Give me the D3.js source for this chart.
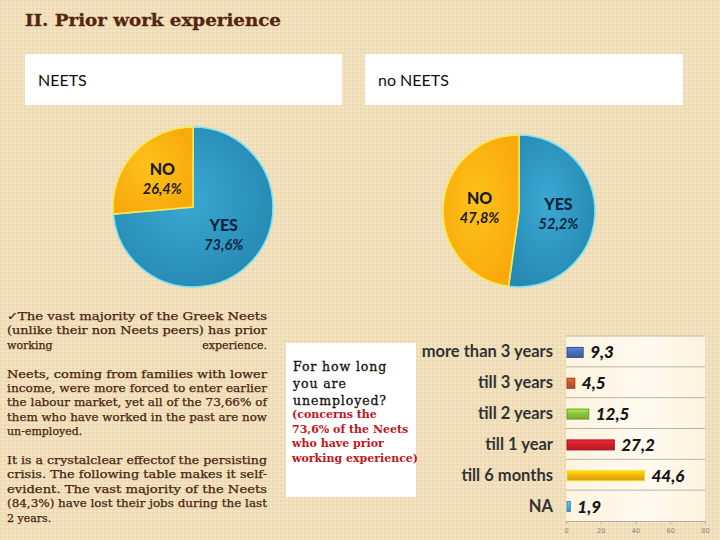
<!DOCTYPE html>
<html><head><meta charset="utf-8">
<script src="https://cdn.jsdelivr.net/npm/d3@7"></script>
<style>html,body{margin:0;padding:0;background:#f0dfba;}svg{display:block;}</style>
</head><body>
<svg id="c" width="720" height="540"></svg>
<script>
// ---- data ----
const titleText = "II. Prior work experience";
const pieTitles = ["NEETS", "no NEETS"];
const pieLabels = ["YES", "NO"];
const neetsValues = [73.6, 26.4];
const noNeetsValues = [52.2, 47.8];
const barCategories = ["more than 3 years", "till 3 years", "till 2 years", "till 1 year", "till 6 months", "NA"];
const barValues = [9.3, 4.5, 12.5, 27.2, 44.6, 1.9];
const barTicks = [0, 20, 40, 60, 80];
const questionLines = ["For how long", "you are", "unemployed?"];
const noteLines = ["(concerns the", "73,6% of the Neets", "who have prior", "working experience)"];
// [text, justified]; "split" = first word left, rest right
const paraLines = [
  ["\u2713The vast majority of the Greek Neets", true],
  ["(unlike their non Neets peers) has prior", true],
  ["working|experience.", "split"],
  null,
  ["Neets, coming from families with lower", true],
  ["income, were more forced to enter earlier", true],
  ["the labour market, yet all of the 73,66% of", true],
  ["them who have worked in the past are now", true],
  ["un-employed.", false],
  null,
  ["It is a crystalclear effectof the persisting", true],
  ["crisis. The following table makes it self-", true],
  ["evident. The vast majority of the Neets", true],
  ["(84,3%) have lost their jobs during the last", true],
  ["2 years.", false]
];

const svg = d3.select("#c");
const defs = svg.append("defs");

// background texture
const pat = defs.append("pattern").attr("id","tex").attr("width",4).attr("height",4).attr("patternUnits","userSpaceOnUse");
pat.append("rect").attr("width",4).attr("height",4).attr("fill","#f0dfba");
pat.append("rect").attr("width",2).attr("height",2).attr("fill","#ecd9b2");
pat.append("rect").attr("x",2).attr("y",2).attr("width",2).attr("height",2).attr("fill","#f3e4c2");
svg.append("rect").attr("width",720).attr("height",540).attr("fill","url(#tex)");

// title
svg.append("text").attr("x",25).attr("y",26).text(titleText)
  .attr("font-family","DejaVu Serif").attr("font-weight","bold").attr("font-size",17.5)
  .attr("fill","#55250f").attr("stroke","#55250f").attr("stroke-width",0.3)
  .attr("textLength",256).attr("lengthAdjust","spacingAndGlyphs");

// header boxes
const boxes = [{x:25,w:317},{x:365,w:318}];
boxes.forEach((b,i)=>{
  svg.append("rect").attr("x",b.x).attr("y",54).attr("width",b.w).attr("height",51).attr("fill","#fff");
  svg.append("text").attr("x",b.x+13).attr("y",86).text(pieTitles[i])
    .attr("font-family","Lato").attr("font-size",16).attr("fill","#111");
});

// gradients for pies
function radGrad(id, c0, c1){
  const g = defs.append("radialGradient").attr("id",id).attr("cx","45%").attr("cy","45%").attr("r","60%");
  g.append("stop").attr("offset","0%").attr("stop-color",c0);
  g.append("stop").attr("offset","100%").attr("stop-color",c1);
}
radGrad("gBlue","#3aa9d2","#2689b2");
radGrad("gYel","#fec21c","#f9a90a");

const pieFill = ["url(#gBlue)","url(#gYel)"];
const pieStroke = ["#7fe3f2","#f6ea4e"];
const labelColor = ["#0e2540","#1a1a1a"];

function drawPie(values, cx, cy, r){
  const pie = d3.pie().sort(null).value(d=>d)(values);
  const arc = d3.arc().innerRadius(0).outerRadius(r);
  const lab = d3.arc().innerRadius(r*0.52).outerRadius(r*0.52);
  const g = svg.append("g").attr("transform",`translate(${cx},${cy})`);
  g.selectAll("path").data(pie).join("path").attr("d",arc)
    .attr("fill",(d,i)=>pieFill[i]).attr("stroke",(d,i)=>pieStroke[i]).attr("stroke-width",1.6);
  pie.forEach((d,i)=>{
    const [x,y] = lab.centroid(d);
    g.append("text").attr("x",x).attr("y",y-4).attr("text-anchor","middle").text(pieLabels[i])
      .attr("font-family","Lato").attr("font-weight","900").attr("font-size",16).attr("fill",labelColor[i]);
    g.append("text").attr("x",x).attr("y",y+15).attr("text-anchor","middle")
      .text(String(d.data).replace(".",",")+"%")
      .attr("font-family","Lato").attr("font-style","italic").attr("font-weight","bold").attr("font-size",14.5).attr("fill",labelColor[i]);
  });
}
drawPie(neetsValues, 193, 207, 80);
drawPie(noNeetsValues, 519, 211, 76);

// paragraph
let py = 320;
const paraStyle = t => t.attr("font-family","DejaVu Serif").attr("font-size",11).attr("fill","#4a2410")
  .attr("stroke","#4a2410").attr("stroke-width",0.25);
paraLines.forEach(l=>{
  if(l){
    if(l[1]==="split"){
      const parts = l[0].split("|");
      paraStyle(svg.append("text").attr("x",7).attr("y",py).text(parts[0]));
      paraStyle(svg.append("text").attr("x",267).attr("y",py).attr("text-anchor","end").text(parts[1]));
    } else {
      const t = paraStyle(svg.append("text").attr("x",7).attr("y",py).text(l[0]));
      if(l[1]) t.attr("textLength",260).attr("lengthAdjust","spacingAndGlyphs");
    }
  }
  py += 14.4;
});

// question box
svg.append("rect").attr("x",286).attr("y",343).attr("width",130).attr("height",154).attr("fill","#fff");
questionLines.forEach((s,i)=>{
  svg.append("text").attr("x",293).attr("y",371+i*17).text(s)
    .attr("font-family","DejaVu Serif").attr("font-size",12.5).attr("fill","#111")
    .attr("stroke","#111").attr("stroke-width",0.3).attr("letter-spacing",0.9);
});
noteLines.forEach((s,i)=>{
  svg.append("text").attr("x",292).attr("y",418+i*14.5).text(s)
    .attr("font-family","DejaVu Serif").attr("font-weight","bold").attr("font-size",11).attr("fill","#c0161c");
});

// bar chart
const x = d3.scaleLinear().domain([0,80]).range([566,705]);
const y = d3.scaleBand().domain(barCategories).range([336,521]);
const pg = defs.append("linearGradient").attr("id","plotBg").attr("x1","0").attr("x2","1");
pg.append("stop").attr("offset","0%").attr("stop-color","#fdf4e0");
pg.append("stop").attr("offset","60%").attr("stop-color","#fffaf0");
pg.append("stop").attr("offset","100%").attr("stop-color","#fdf3df");
svg.append("rect").attr("x",x(0)).attr("y",336).attr("width",x(80)-x(0)).attr("height",521-336).attr("fill","url(#plotBg)");

svg.append("g").selectAll("line").data(barCategories).join("line")
  .attr("x1",x(0)).attr("x2",x(80)).attr("y1",d=>y(d)).attr("y2",d=>y(d))
  .attr("stroke","#bdb4a4").attr("stroke-width",1);

const axis = svg.append("g").attr("transform","translate(0,521)")
  .call(d3.axisBottom(x).tickValues(barTicks).tickSize(3).tickPadding(4));
axis.select(".domain").attr("stroke","#b5ab98");
axis.selectAll(".tick line").attr("stroke","#b5ab98");
axis.selectAll("text").attr("font-family","DejaVu Sans").attr("font-size",6.5).attr("fill","#8a8478");

const barColors = ["#4a6db4","#c65a2c","#8cc43c","#cf1f2a","#f6b40a","#4cb4d8"];
const barEdge = ["#2f4f8f","#9a3c18","#6a9e22","#9d1218","#f2dc30","#2a8cb0"];
barColors.forEach((c,i)=>{
  const g = defs.append("linearGradient").attr("id","bg"+i).attr("x1","0").attr("x2","0").attr("y1","0").attr("y2","1");
  g.append("stop").attr("offset","0%").attr("stop-color",d3.color(c).brighter(0.6));
  g.append("stop").attr("offset","45%").attr("stop-color",c);
  g.append("stop").attr("offset","100%").attr("stop-color",d3.color(c).darker(0.4));
});
const bh = 10;
svg.append("g").selectAll("rect").data(barValues).join("rect")
  .attr("x",x(0)+1).attr("y",(d,i)=>y(barCategories[i])+y.bandwidth()/2-bh/2+1)
  .attr("width",d=>x(d)-x(0)).attr("height",bh)
  .attr("fill",(d,i)=>`url(#bg${i})`).attr("stroke",(d,i)=>barEdge[i]).attr("stroke-width",1);

svg.append("g").selectAll("text").data(barValues).join("text")
  .attr("x",d=>x(d)+8).attr("y",(d,i)=>y(barCategories[i])+y.bandwidth()/2+7)
  .text(d=>String(d).replace(".",","))
  .attr("font-family","Lato").attr("font-style","italic").attr("font-weight","900").attr("font-size",17).attr("fill","#151515");

svg.append("g").selectAll("text").data(barCategories).join("text")
  .attr("x",553).attr("y",d=>y(d)+y.bandwidth()/2+6)
  .attr("text-anchor","end").text(d=>d)
  .attr("font-family","Lato").attr("font-weight","bold").attr("font-size",16.5).attr("fill","#333");
</script>
</body></html>
